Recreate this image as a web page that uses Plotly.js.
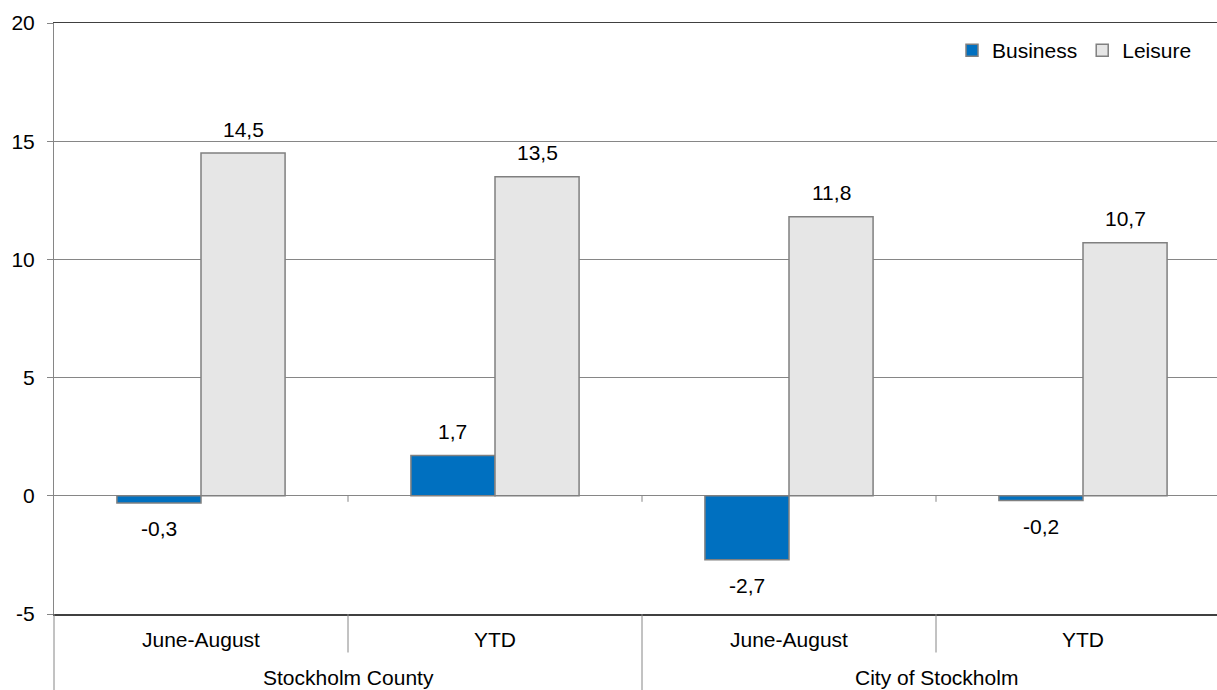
<!DOCTYPE html>
<html>
<head>
<meta charset="utf-8">
<script src="https://cdn.plot.ly/plotly-3.0.1.min.js"></script>
<style>
html,body{margin:0;padding:0;background:#fff;}
#chart{width:1217px;height:690px;}
</style>
</head>
<body>
<div id="chart"></div>
<script>
// ---- data ----
const groups = ['Stockholm County', 'Stockholm County', 'City of Stockholm', 'City of Stockholm'];
const periods = ['June-August', 'YTD', 'June-August', 'YTD'];
const business = [-0.3, 1.7, -2.7, -0.2];
const leisure = [14.5, 13.5, 11.8, 10.7];
const seriesNames = ['Business', 'Leisure'];
const yTicks = [-5, 0, 5, 10, 15, 20];

// ---- styling ----
const FONT = 'Liberation Sans, Arial, sans-serif';
const FS = 21;
const GRID = '#868686';
const BARGAP = 0.428;
const xs = periods.map((_, i) => i);
const plotH = 591;
const plotW = 1163;
const visibleCats = plotW / 294;

const fmt = v => v.toFixed(1).replace('.', ',');

const traces = [
  {
    type: 'bar', name: seriesNames[0], x: xs, y: business,
    marker: {color: '#0070C0', line: {color: '#808080', width: 1.5}},
    hoverinfo: 'skip'
  },
  {
    type: 'bar', name: seriesNames[1], x: xs, y: leisure,
    marker: {color: '#E6E6E6', line: {color: '#808080', width: 1.5}},
    hoverinfo: 'skip'
  }
];

const barW = (1 - BARGAP) / 2;
const annotations = [];
[business, leisure].forEach((arr, s) => {
  arr.forEach((v, i) => {
    annotations.push({
      x: xs[i] + (s === 0 ? -barW / 2 : barW / 2), y: v, xref: 'x', yref: 'y',
      text: fmt(v), showarrow: false, yanchor: 'middle',
      yshift: v >= 0 ? 24 : -26,
      font: {family: FONT, size: FS, color: '#000'}
    });
  });
});
// inner category labels
periods.forEach((p, i) => {
  annotations.push({
    x: xs[i], y: -25.5 / plotH, xref: 'x', yref: 'paper', text: p,
    showarrow: false, yanchor: 'middle', font: {family: FONT, size: FS, color: '#000'}
  });
});
// outer group labels
const uniqGroups = [...new Set(groups)];
uniqGroups.forEach(g => {
  const idx = xs.filter(i => groups[i] === g);
  const cx = idx.reduce((a, b) => a + b, 0) / idx.length;
  annotations.push({
    x: cx, y: -63.5 / plotH, xref: 'x', yref: 'paper', text: g,
    showarrow: false, yanchor: 'middle', font: {family: FONT, size: FS, color: '#000'}
  });
});

// category dividers
const shapes = [];
for (let i = 0; i < xs.length - 1; i++) {
  const b = xs[i] + 0.5;
  const isGroupBoundary = groups[i] !== groups[i + 1];
  shapes.push({
    type: 'line', xref: 'x', yref: 'paper', x0: b, x1: b,
    y0: 0, y1: isGroupBoundary ? -80 / plotH : -38.5 / plotH,
    line: {color: GRID, width: 1}
  });
  shapes.push({
    type: 'line', xref: 'x', yref: 'y', ysizemode: 'pixel', yanchor: 0,
    x0: b, x1: b, y0: 0, y1: -6, line: {color: GRID, width: 1}
  });
}
// left axis extension below plot
shapes.push({
  type: 'line', xref: 'paper', yref: 'paper', x0: 0, x1: 0, y0: 0, y1: -80 / plotH,
  line: {color: GRID, width: 1}
});

const layout = {
  width: 1217, height: 690,
  margin: {l: 54, r: 0, t: 23, b: 76, pad: 0},
  paper_bgcolor: '#fff', plot_bgcolor: '#fff',
  font: {family: FONT, size: FS, color: '#000'},
  barmode: 'group', bargap: BARGAP, bargroupgap: 0,
  showlegend: true,
  legend: {
    orientation: 'h', x: (1197 - 54) / plotW, xanchor: 'right', y: 1 - 7 / plotH, yanchor: 'top',
    font: {family: FONT, size: FS, color: '#000'},
    bgcolor: 'rgba(0,0,0,0)', traceorder: 'normal'
  },
  xaxis: {
    type: 'linear', range: [-0.5, -0.5 + visibleCats],
    showticklabels: false, showgrid: false, zeroline: false,
    showline: true, mirror: true, linecolor: '#404040', linewidth: 1.5,
    ticks: '', fixedrange: true
  },
  yaxis: {
    range: [-5, 20], tickvals: yTicks, ticktext: yTicks.map(String),
    showgrid: true, gridcolor: GRID, gridwidth: 1,
    zeroline: true, zerolinecolor: GRID, zerolinewidth: 1,
    showline: true, linecolor: GRID, linewidth: 1,
    ticks: 'outside', ticklen: 6, tickcolor: GRID, tickwidth: 1,
    ticklabelstandoff: 8,
    tickfont: {family: FONT, size: FS, color: '#000'},
    fixedrange: true
  },
  annotations: annotations,
  shapes: shapes
};

Plotly.newPlot('chart', traces, layout, {displayModeBar: false, staticPlot: true});
</script>
</body>
</html>
